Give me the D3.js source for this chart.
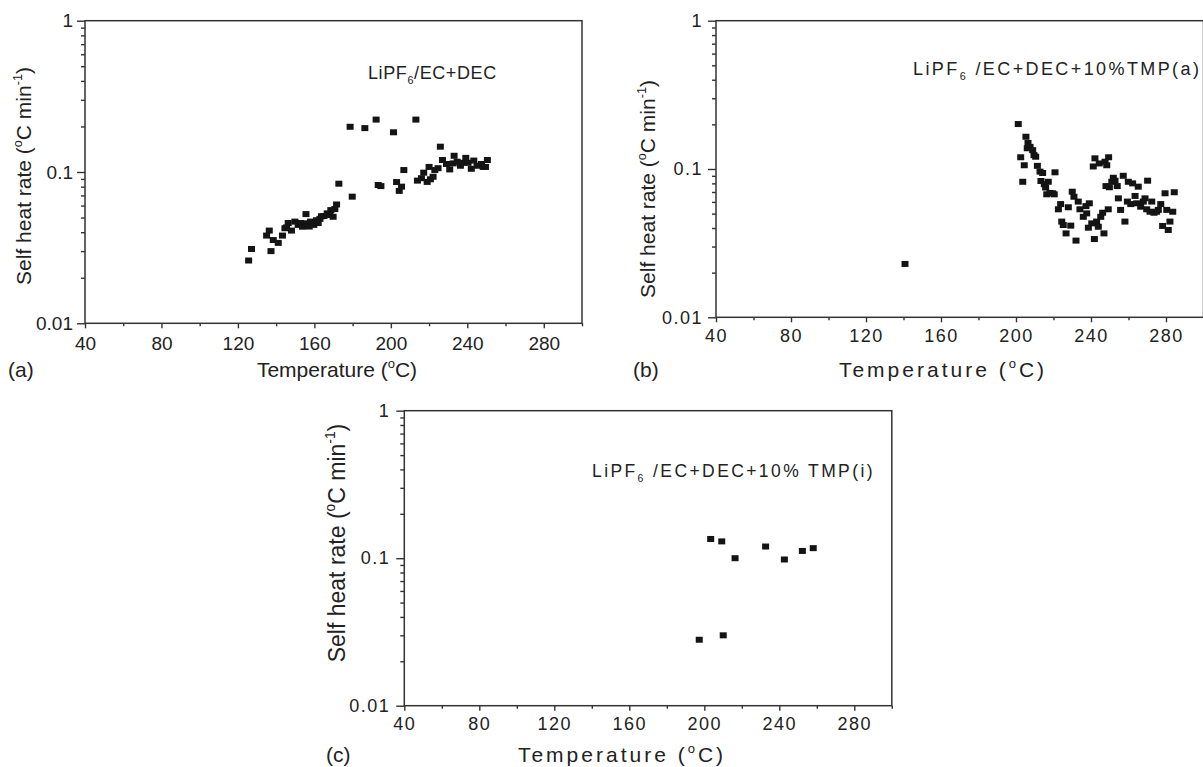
<!DOCTYPE html>
<html>
<head>
<meta charset="utf-8">
<script src="https://cdn.jsdelivr.net/npm/d3@7"></script>
<style>
body { margin: 0; background: #fff; }
svg text { font-family: "Liberation Sans", Arial, sans-serif; fill: #222; }
</style>
</head>
<body>
<div id="chart"></div>
<script>
//Datos (temperatura en ºC, velocidad de autocalentamiento en ºC/min)
const tempA = [125.6, 127.1, 135.0, 136.4, 137.3, 138.5, 141.1, 143.3, 144.6, 145.4, 146.3, 148.0, 149.8, 151.5, 152.8, 153.8, 155.6, 156.3, 157.3, 158.0, 159.7, 161.1, 162.0, 162.9, 163.7, 165.0, 166.7, 168.1, 168.6, 169.8, 170.7, 171.6, 172.8, 178.7, 179.8, 186.4, 192.3, 193.4, 194.8, 201.4, 203.0, 204.4, 205.6, 206.8, 213.1, 213.9, 216.0, 217.2, 219.0, 220.0, 220.7, 222.1, 223.0, 224.7, 225.9, 227.0, 229.1, 230.8, 232.6, 233.1, 234.7, 236.4, 237.8, 239.2, 240.4, 242.1, 243.4, 245.1, 247.4, 248.3, 249.5, 250.5];
const rateA = [0.026, 0.031, 0.038, 0.041, 0.030, 0.0355, 0.034, 0.038, 0.0425, 0.043, 0.046, 0.041, 0.047, 0.0447, 0.046, 0.0435, 0.0527, 0.0458, 0.0436, 0.047, 0.0447, 0.048, 0.046, 0.049, 0.051, 0.0512, 0.0533, 0.052, 0.056, 0.0506, 0.0569, 0.061, 0.0837, 0.199, 0.0687, 0.195, 0.222, 0.082, 0.0807, 0.183, 0.0858, 0.075, 0.080, 0.103, 0.222, 0.0877, 0.091, 0.099, 0.086, 0.108, 0.0895, 0.093, 0.103, 0.106, 0.147, 0.120, 0.113, 0.104, 0.114, 0.128, 0.117, 0.110, 0.115, 0.124, 0.115, 0.105, 0.119, 0.110, 0.113, 0.108, 0.108, 0.120];

const tempB = [140.8, 201.2, 202.5, 203.6, 204.4, 205.3, 206.0, 206.4, 207.5, 208.9, 209.6, 210.5, 211.4, 212.8, 213.3, 214.2, 215.1, 215.8, 216.4, 217.2, 218.1, 219.6, 220.4, 220.8, 222.6, 223.8, 224.4, 225.2, 226.7, 227.9, 229.2, 230.0, 230.9, 232.0, 233.2, 234.1, 235.9, 237.3, 237.7, 238.6, 239.1, 240.4, 241.2, 241.8, 242.1, 243.0, 243.9, 244.4, 245.2, 246.2, 246.9, 247.5, 248.0, 248.4, 249.2, 249.4, 249.8, 251.1, 251.9, 252.8, 254.0, 254.6, 255.8, 257.2, 258.1, 259.4, 259.9, 261.2, 262.2, 263.5, 264.4, 265.2, 266.5, 267.9, 268.8, 269.7, 270.2, 271.5, 272.4, 273.6, 275.0, 275.9, 277.2, 278.2, 279.5, 280.4, 281.2, 282.1, 283.6, 284.4];
const rateB = [0.0229, 0.201, 0.120, 0.082, 0.106, 0.165, 0.138, 0.150, 0.141, 0.134, 0.124, 0.121, 0.105, 0.096, 0.083, 0.094, 0.079, 0.075, 0.0675, 0.082, 0.069, 0.0686, 0.0675, 0.095, 0.0535, 0.058, 0.0442, 0.0419, 0.0368, 0.0552, 0.0415, 0.0703, 0.065, 0.0329, 0.0603, 0.0535, 0.0476, 0.0562, 0.0502, 0.0402, 0.0587, 0.043, 0.104, 0.0337, 0.118, 0.0442, 0.0408, 0.109, 0.0476, 0.0507, 0.0368, 0.112, 0.0767, 0.106, 0.0535, 0.120, 0.0753, 0.082, 0.0873, 0.0834, 0.0767, 0.0634, 0.053, 0.090, 0.0442, 0.0603, 0.082, 0.058, 0.080, 0.0658, 0.0587, 0.076, 0.0557, 0.0603, 0.0634, 0.0535, 0.0834, 0.0515, 0.0603, 0.0507, 0.0515, 0.053, 0.058, 0.0413, 0.0686, 0.053, 0.0388, 0.0442, 0.0515, 0.0697];

const tempC = [197.3, 203.4, 209.3, 210.1, 216.4, 232.7, 242.7, 252.3, 258.1];
const rateC = [0.028, 0.135, 0.130, 0.030, 0.100, 0.120, 0.098, 0.112, 0.117];

//Ejes
const xTicks = [40, 80, 120, 160, 200, 240, 280];
const xMinorTicks = [60, 100, 140, 180, 220, 260, 300];
const yTicks = [0.01, 0.1, 1];
const yTickLabels = ['0.01', '0.1', '1'];
const yMinorTicks = [0.02, 0.03, 0.04, 0.05, 0.06, 0.07, 0.08, 0.09, 0.2, 0.3, 0.4, 0.5, 0.6, 0.7, 0.8, 0.9];
const panelLetters = ['(a)', '(b)', '(c)'];
const solventLabels = ['/EC+DEC', ' /EC+DEC+10%TMP(a)', ' /EC+DEC+10% TMP(i)'];

const COLOR_AXIS = '#333', COLOR_MARK = '#141414';

let svg = d3.select('#chart')
    .append('svg')
    .attr('width', 1203)
    .attr('height', 767);

//Posiciones de cada panel
let panels = [
    { left: 85, right: 582, top: 20.7, bottom: 323.3, temp: tempA, rate: rateA, spacing: 0, tickFont: 19, tickPadX: 8, tickPadY: 4,
      letter: { x: 8, y: 377 }, xTitle: { x: 337, y: 377, ls: 0 }, yTitle: { x: 31, y: 176, size: 21 },
      note: { x: 368, y: 79, size: 18, ls: 0.6 } },
    { left: 716, right: 1203.5, top: 20.7, bottom: 317.3, temp: tempB, rate: rateB, spacing: 1.5, tickFont: 18, tickPadX: 7, tickPadY: 5,
      letter: { x: 633, y: 377 }, xTitle: { x: 943, y: 377, ls: 3 }, yTitle: { x: 655, y: 189, size: 21 },
      note: { x: 913, y: 75, size: 18, ls: 2.4 } },
    { left: 404.3, right: 891.8, top: 410.7, bottom: 705.7, temp: tempC, rate: rateC, spacing: 1.5, tickFont: 18, tickPadX: 7, tickPadY: 6,
      letter: { x: 326, y: 762 }, xTitle: { x: 622, y: 762, ls: 3 }, yTitle: { x: 345, y: 543, size: 23 },
      note: { x: 592, y: 477, size: 17.5, ls: 2.4 } }
];

function cleanAxis(g, p) {
    g.attr('font-size', null).attr('font-family', null);
    g.select('.domain').remove();
    g.selectAll('line').attr('stroke', COLOR_AXIS).attr('stroke-width', 1.4);
    g.selectAll('text')
        .attr('font-size', p.tickFont)
        .attr('letter-spacing', p.spacing)
        .attr('fill', '#222');
}

panels.forEach(function(p, i) {
    let x = d3.scaleLinear().domain([40, 300]).range([p.left, p.right]);
    let y = d3.scaleLog().domain([0.01, 1]).range([p.bottom, p.top]);
    let g = svg.append('g');

    //Ejes X
    g.append('g')
        .attr('transform', 'translate(0,' + p.bottom + ')')
        .call(d3.axisBottom(x).tickValues(xMinorTicks).tickSize(3).tickFormat(''))
        .call(function(s) { cleanAxis(s, p); });
    g.append('g')
        .attr('transform', 'translate(0,' + p.bottom + ')')
        .call(d3.axisBottom(x).tickValues(xTicks).tickSize(5).tickPadding(p.tickPadX).tickFormat(d3.format('d')))
        .call(function(s) { cleanAxis(s, p); });

    //Ejes Y
    g.append('g')
        .attr('transform', 'translate(' + p.left + ',0)')
        .call(d3.axisLeft(y).tickValues(yMinorTicks).tickSize(4).tickFormat(''))
        .call(function(s) { cleanAxis(s, p); });
    g.append('g')
        .attr('transform', 'translate(' + p.left + ',0)')
        .call(d3.axisLeft(y).tickValues(yTicks).tickSize(8).tickPadding(p.tickPadY).tickFormat(function(d, j) { return yTickLabels[j]; }))
        .call(function(s) { cleanAxis(s, p); });

    //Marco
    g.append('rect')
        .attr('x', x(40))
        .attr('y', y(1))
        .attr('width', x(300) - x(40))
        .attr('height', y(0.01) - y(1))
        .attr('fill', 'none')
        .attr('stroke', COLOR_AXIS)
        .attr('stroke-width', 1.5);

    //Puntos
    g.selectAll('.pt')
        .data(p.temp.map(function(t, k) { return { t: t, r: p.rate[k] }; }))
        .enter()
        .append('rect')
        .attr('x', function(d) { return x(d.t) - 3.5; })
        .attr('y', function(d) { return y(d.r) - 3; })
        .attr('width', 7)
        .attr('height', 6)
        .attr('fill', COLOR_MARK);

    //Letra del panel
    g.append('text')
        .attr('x', p.letter.x)
        .attr('y', p.letter.y)
        .attr('font-size', 21)
        .text(panelLetters[i]);

    //Título eje X
    let xt = g.append('text')
        .attr('x', p.xTitle.x)
        .attr('y', p.xTitle.y)
        .attr('text-anchor', 'middle')
        .attr('font-size', 21)
        .attr('letter-spacing', p.xTitle.ls);
    xt.append('tspan').text('Temperature (');
    xt.append('tspan').attr('font-size', 13).attr('dy', -9).text('o');
    xt.append('tspan').attr('dy', 9).text('C)');

    //Título eje Y
    let yt = g.append('text')
        .attr('transform', 'translate(' + p.yTitle.x + ',' + p.yTitle.y + ') rotate(-90)')
        .attr('text-anchor', 'middle')
        .attr('font-size', p.yTitle.size);
    yt.append('tspan').text('Self heat rate (');
    yt.append('tspan').attr('font-size', p.yTitle.size * 0.6).attr('dy', -p.yTitle.size * 0.42).text('o');
    yt.append('tspan').attr('dy', p.yTitle.size * 0.42).text('C min');
    yt.append('tspan').attr('font-size', p.yTitle.size * 0.6).attr('dy', -p.yTitle.size * 0.42).text('-1');
    yt.append('tspan').attr('dy', p.yTitle.size * 0.42).text(')');

    //Electrolito
    let nt = g.append('text')
        .attr('x', p.note.x)
        .attr('y', p.note.y)
        .attr('font-size', p.note.size)
        .attr('letter-spacing', p.note.ls);
    nt.append('tspan').text('LiPF');
    nt.append('tspan').attr('font-size', p.note.size * 0.6).attr('dy', 5).text('6');
    nt.append('tspan').attr('dy', -5).text(solventLabels[i]);
});
</script>
</body>
</html>
